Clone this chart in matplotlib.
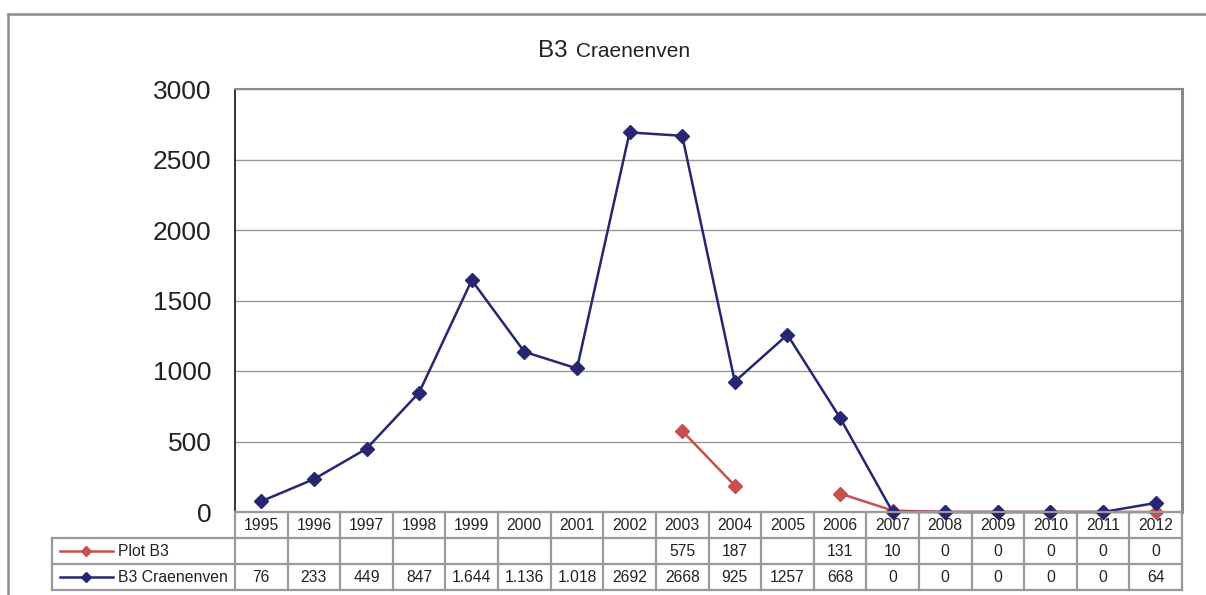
import numpy as np
import matplotlib
matplotlib.use("Agg")
import matplotlib.pyplot as plt
from matplotlib.lines import Line2D

plt.rcParams['font.family'] = ['Liberation Sans', 'DejaVu Sans']

years = ['1995', '1996', '1997', '1998', '1999', '2000', '2001', '2002', '2003',
         '2004', '2005', '2006', '2007', '2008', '2009', '2010', '2011', '2012']
plot_b3 = [None, None, None, None, None, None, None, None, 575, 187, None, 131, 10, 0, 0, 0, 0, 0]
craenenven = [76, 233, 449, 847, 1644, 1136, 1018, 2692, 2668, 925, 1257, 668, 0, 0, 0, 0, 0, 64]
craenenven_labels = ['76', '233', '449', '847', '1.644', '1.136', '1.018', '2692', '2668',
                     '925', '1257', '668', '0', '0', '0', '0', '0', '64']
series_names = ['Plot B3', 'B3 Craenenven']
yticks = [0, 500, 1000, 1500, 2000, 2500, 3000]

BLUE = '#262673'
RED = '#C8504C'
GRID = '#999999'

W, H = 1206, 595
fig = plt.figure(figsize=(W / 100, H / 100), dpi=100)

def fx(px):
    return px / W

def fy(py):
    return 1 - py / H

# outer frame
fig.add_artist(Line2D([fx(8), fx(1206)], [fy(14), fy(14)], color='#8a8a8a', lw=1.8))
fig.add_artist(Line2D([fx(8), fx(8)], [fy(14), fy(595)], color='#8a8a8a', lw=1.8))

# title
fig.text(fx(568), fy(57), 'B3', fontsize=17.5, ha='right', va='baseline', color='#222222')
fig.text(fx(576), fy(57), 'Craenenven', fontsize=15, ha='left', va='baseline', color='#222222')

L, R, T, B = 235, 1182, 89, 512
ax = fig.add_axes([fx(L), fy(B), fx(R) - fx(L), fy(T) - fy(B)])
x = np.arange(len(years))
red = np.array([np.nan if v is None else v for v in plot_b3], dtype=float)
blue = np.array(craenenven, dtype=float)
ax.plot(x, red, color=RED, lw=1.8, marker='D', ms=7.5, zorder=3, clip_on=False)
ax.plot(x, blue, color=BLUE, lw=1.8, marker='D', ms=7.5, zorder=4, clip_on=False)
ax.set_xlim(-0.5, len(years) - 0.5)
ax.set_ylim(0, 3000)
ax.set_yticks(yticks)
ax.set_yticklabels([str(t) for t in yticks], fontsize=19, color='#222222')
ax.tick_params(axis='y', length=0, pad=17)
ax.set_xticks([])
ax.grid(axis='y', color=GRID, lw=1.0)
ax.set_axisbelow(True)
ax.spines['left'].set_color('#111111')
ax.spines['left'].set_linewidth(1.2)
for s in ['top', 'right', 'bottom']:
    ax.spines[s].set_color('#8a8a8a')
    ax.spines[s].set_linewidth(1.5)
ax.spines['right'].set_linewidth(2.2)

# data table
TB = 590
tax = fig.add_axes([fx(L), fy(TB), fx(R) - fx(L), fy(B) - fy(TB)])
tax.set_xlim(-0.5, len(years) - 0.5)
tax.set_ylim(3, 0)
tax.axis('off')
legw = (L - 52) / ((R - L) / len(years))
xl = -0.5 - legw
kw = dict(color=GRID, lw=1.6, clip_on=False)
# horizontal lines
tax.plot([-0.5, len(years) - 0.5], [0, 0], **kw)
for yy in [1, 2, 3]:
    tax.plot([xl, len(years) - 0.5], [yy, yy], **kw)
# vertical lines
for i in range(len(years) + 1):
    tax.plot([i - 0.5, i - 0.5], [0, 3], **kw)
tax.plot([xl, xl], [1, 3], **kw)

fs = 11.3
for i, yr in enumerate(years):
    tax.text(i, 0.5, yr, ha='center', va='center', fontsize=fs, color='#222222')
    if plot_b3[i] is not None:
        tax.text(i, 1.5, str(plot_b3[i]), ha='center', va='center', fontsize=fs, color='#222222')
    tax.text(i, 2.5, craenenven_labels[i], ha='center', va='center', fontsize=fs, color='#222222')

# legend keys
for row, (name, col) in enumerate(zip(series_names, [RED, BLUE])):
    yy = row + 1.5
    x0, x1 = xl + 0.15, xl + 1.15
    tax.plot([x0, x1], [yy, yy], color=col, lw=1.8, clip_on=False)
    tax.plot([(x0 + x1) / 2], [yy], color=col, marker='D', ms=5, clip_on=False)
    tax.text(x1 + 0.1, yy, name, ha='left', va='center', fontsize=fs, color='#222222')

fig.savefig('out.png', dpi=100)
